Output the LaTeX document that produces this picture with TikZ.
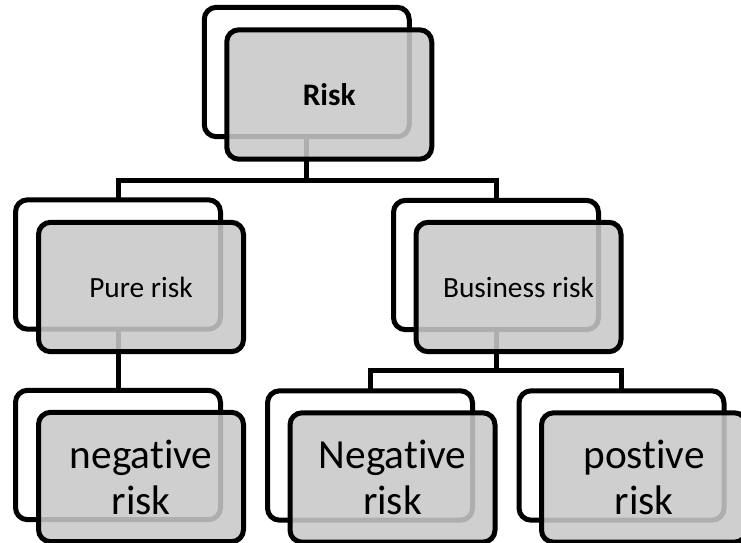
\documentclass[tikz,border=0pt]{standalone}
\usepackage{fontspec}
\setmainfont[Ligatures=NoCommon]{Carlito}
\begin{document}
\begin{tikzpicture}[x=0.75pt,y=-0.75pt,
  line width=3.75pt,
  backbox/.style={draw=black, fill=white, rounded corners=9pt, line width=3.75pt,
    minimum width=153.75pt, minimum height=97pt, inner sep=0pt, outer sep=0pt},
  frontbox/.style={draw=black, fill=black!21, fill opacity=0.87, text opacity=1,
    rounded corners=9pt, line width=3.75pt,
    minimum width=153.75pt, minimum height=97pt, inner sep=0pt, outer sep=0pt,
    align=center},
  smalltxt/.style={font=\fontsize{22pt}{26pt}\selectfont},
  titletxt/.style={font=\fontsize{23.5pt}{28pt}\selectfont\bfseries},
  bigtxt/.style={font=\fontsize{31pt}{34.5pt}\selectfont},
  conn/.style={draw=black, line width=3.75pt, line join=miter}]
\useasboundingbox[clip] (0,0) rectangle (741,542);
\fill[white] (0,0) rectangle (741,542);

% bar levels for the connectors
\coordinate (bartop) at (0,180);
\coordinate (barbus) at (0,370);

% back boxes
\node[backbox] (riskB) at (306.75,72) {};
\node[backbox] (pureB) at (118,264.5) {};
\node[backbox] (busB) at (496,265) {};
\node[backbox] (negLB) at (118,455) {};
\node[backbox] (negMB) at (370,455.5) {};
\node[backbox] (posB) at (621.5,455.5) {};

% connectors
\draw[conn] (riskB.south) -- (riskB.south |- bartop);
\draw[conn] (pureB.north) -- (pureB.north |- bartop) -- (busB.north |- bartop) -- (busB.north);
\draw[conn] (pureB.south) -- (negLB.north);
\draw[conn] (busB.south) -- (busB.south |- barbus);
\draw[conn] (negMB.north) -- (negMB.north |- barbus) -- (posB.north |- barbus) -- (posB.north);

% front boxes with labels
\node[frontbox, titletxt] (riskF) at (329.25,94.5) {Risk};
\node[frontbox, smalltxt] (pureF) at (141,287) {Pure risk};
\node[frontbox, smalltxt] (busF) at (518.5,287) {Business risk};
\node[frontbox, bigtxt] (negLF) at (141,477) {negative\\risk};
\node[frontbox, bigtxt] (negMF) at (392.5,477.5) {Negative\\risk};
\node[frontbox, bigtxt] (posF) at (644,477.5) {postive\\risk};
\end{tikzpicture}
\end{document}
